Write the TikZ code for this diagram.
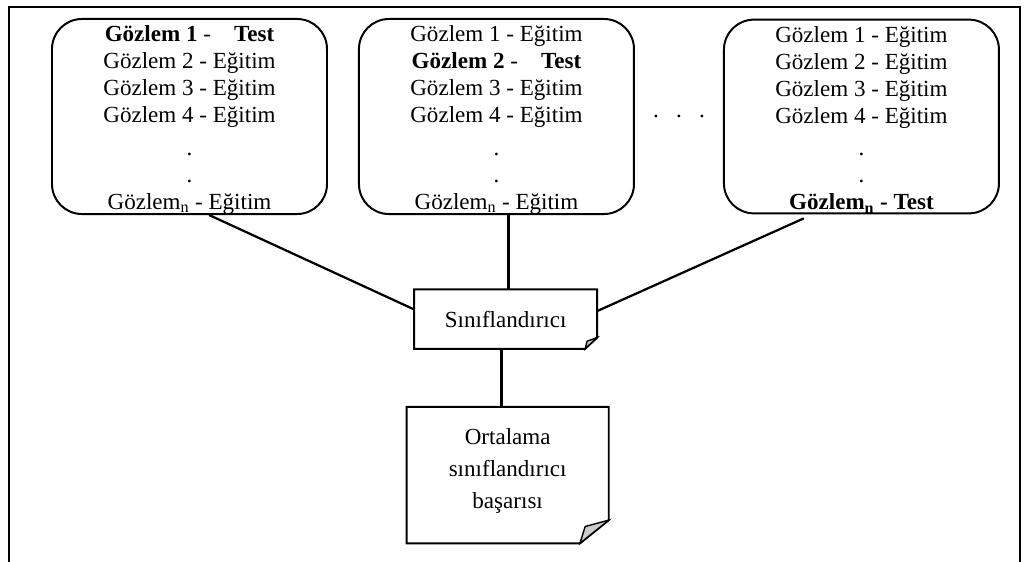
\documentclass[tikz,border=0pt]{standalone}
\usepackage{fontspec}
\setmainfont{Liberation Serif}
\usetikzlibrary{positioning, calc}

\begin{document}
\begin{tikzpicture}[fold/.style={draw, rounded corners=0.75cm, line width=1.4pt, minimum width=6.875cm, minimum height=4.825cm, inner sep=0pt, align=center, font=\fontsize{16.4}{19.2}\selectfont},
    note/.style={inner sep=0pt, align=center},
    link/.style={line width=1.6pt}]
            % page frame, open at the bottom
            \useasboundingbox (0,0) rectangle (25.675,-14.05);
            \draw[line width=1.6pt] (0.225,-14.05) -- (0.225,-0.175) -- (25.5,-0.175) -- (25.5,-14.05);

            \node[fold] (f1) at (4.7375,-2.9125) {\rule{0pt}{16pt}\textbf{Gözlem 1} -\quad\textbf{Test}\\ Gözlem 2 - Eğitim\\ Gözlem 3 - Eğitim\\ Gözlem 4 - Eğitim\\[4pt] .\\ .\\ Gözlem\textsubscript{n}\ - Eğitim};
            \node[fold] (f2) [right=0.75cm of f1] {\rule{0pt}{16pt}Gözlem 1 - Eğitim\\ \textbf{Gözlem 2} -\quad\textbf{Test}\\ Gözlem 3 - Eğitim\\ Gözlem 4 - Eğitim\\[4pt] .\\ .\\ Gözlem\textsubscript{n}\ - Eğitim};
            \node[fold] (f3) [right=2.2cm of f2] {\rule{0pt}{16pt}Gözlem 1 - Eğitim\\ Gözlem 2 - Eğitim\\ Gözlem 3 - Eğitim\\ Gözlem 4 - Eğitim\\[4pt] .\\ .\\ \textbf{Gözlem\textsubscript{n}\ - Test}};
            \node[font=\fontsize{16.4}{19.2}\selectfont] (dots) at (16.975,-2.9) {.\hspace{0.75em}.\hspace{0.75em}.};

            \node[note, minimum width=4.56cm, minimum height=1.47cm, font=\fontsize{16.4}{19.2}\selectfont] (clf) [below=1.86cm of f2, xshift=0.23cm] {Sınıflandırıcı};
            \node[note, minimum width=5.04cm, minimum height=3.4cm, font=\fontsize{16.4}{22.8}\selectfont] (avg) [below=1.45cm of clf, xshift=0.05cm] {Ortalama\\ sınıflandırıcı\\ başarısı\\[-14pt]};

            % dog-eared outlines
            \draw[line width=1.4pt] (clf.north west) -- (clf.north east) -- ([yshift=0.28cm]clf.south east) -- ([xshift=-0.3cm]clf.south east) -- (clf.south west) -- cycle;
            \draw[line width=1pt, fill=gray!40] ([yshift=0.28cm]clf.south east) -- ([xshift=-0.3cm]clf.south east) -- ([xshift=-0.25cm, yshift=0.19cm]clf.south east) -- cycle;
            \draw[line width=1.4pt] (avg.north west) -- (avg.north east) -- ([yshift=0.58cm]avg.south east) -- ([xshift=-0.72cm]avg.south east) -- (avg.south west) -- cycle;
            \draw[line width=1pt, fill=gray!40] ([yshift=0.58cm]avg.south east) -- ([xshift=-0.72cm]avg.south east) -- ([xshift=-0.59cm, yshift=0.42cm]avg.south east) -- cycle;

            \path[link] ([xshift=0.49cm]f1.south) edge (clf.174);
            \path[link, line width=2.2pt] ([xshift=0.3cm]f2.south) edge ([xshift=0.3cm]f2.south |- clf.north);
            \path[link] ([xshift=-1.44cm, yshift=-0.1cm]f3.south) edge (clf.5);
            \path[link, line width=2.6pt] ([xshift=-0.1cm]clf.south) edge ([xshift=-0.1cm]clf.south |- avg.north);
        \end{tikzpicture}
\end{document}
